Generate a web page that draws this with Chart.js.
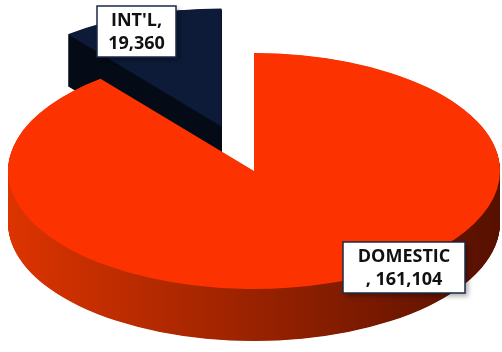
<!DOCTYPE html>
<html>
<head>
<meta charset="utf-8">
<script src="https://cdn.jsdelivr.net/npm/chart.js@4/dist/chart.umd.min.js"></script>
<style>
    html, body { margin: 0; padding: 0; background: #fff; }
    #contenedor { width: 502px; height: 352px; position: relative; }
</style>
</head>
<body>
<div id="contenedor"><canvas id="pastel-grafica"></canvas></div>
<script>
const categorias = ["INT'L", 'DOMESTIC'];
const valores = [19360, 161104];
const etiquetas = [["INT'L,", '19,360'], ['DOMESTIC', ', 161,104']];

const colores = ['#0d1b39', '#fc3300'];
const coloresLado = [['#040b17', '#040b17'], ['#dc3400', '#561000']];

// vista 3d: elipse en pantalla, grosor y separacion de cada rebanada (fraccion del radio)
const vista = { cx: 254, cy: 171, rx: 246, ry: 118, grosor: 52, separa: [0.4, 0] };
// cajas de las etiquetas
const cajas = [
    { x: 97, y: 6, w: 79, h: 51 },
    { x: 343, y: 242, w: 122, h: 51 }
];

const pastel3d = {
    id: 'pastel3d',
    beforeDatasetsDraw(chart) {
        const ctx = chart.ctx;
        const arcos = chart.getDatasetMeta(0).data;
        if (!arcos.length) return;
        const R = arcos[0].outerRadius;
        const cx0 = arcos[0].x, cy0 = arcos[0].y;
        const sx = vista.rx / R, sy = vista.ry / R;

        // mover las rebanadas separadas
        arcos.forEach((arco, i) => {
            const d = vista.separa[i] * R;
            const medio = (arco.startAngle + arco.endAngle) / 2;
            arco._orig = { x: arco.x, y: arco.y };
            arco.x += Math.cos(medio) * d;
            arco.y += Math.sin(medio) * d;
        });

        ctx.save();
        ctx.translate(vista.cx, vista.cy);
        ctx.scale(sx, sy);
        ctx.translate(-cx0, -cy0);

        // costados: capas hacia abajo
        arcos.forEach((arco, i) => {
            const g = ctx.createLinearGradient(cx0 - R, 0, cx0 + R, 0);
            g.addColorStop(0, coloresLado[i][0]);
            g.addColorStop(1, coloresLado[i][1]);
            ctx.fillStyle = g;
            for (let d = vista.grosor; d > 0; d -= 0.5) {
                const dy = d / sy;
                ctx.beginPath();
                ctx.moveTo(arco.x, arco.y + dy);
                ctx.arc(arco.x, arco.y + dy, R, arco.startAngle, arco.endAngle);
                ctx.closePath();
                ctx.fill();
            }
        });
    },
    afterDatasetsDraw(chart) {
        const ctx = chart.ctx;
        ctx.restore();
        chart.getDatasetMeta(0).data.forEach(arco => {
            if (arco._orig) { arco.x = arco._orig.x; arco.y = arco._orig.y; }
        });

        // etiquetas
        cajas.forEach((c, i) => {
            ctx.save();
            ctx.shadowColor = 'rgba(0,0,0,0.35)';
            ctx.shadowBlur = 5;
            ctx.shadowOffsetX = 3;
            ctx.shadowOffsetY = 3;
            ctx.fillStyle = '#fff';
            ctx.fillRect(c.x, c.y, c.w, c.h);
            ctx.restore();
            ctx.save();
            ctx.strokeStyle = '#1b2a44';
            ctx.lineWidth = 1.5;
            ctx.strokeRect(c.x, c.y, c.w, c.h);
            ctx.fillStyle = '#111';
            ctx.font = 'bold 18px "Open Sans"';
            ctx.textAlign = 'center';
            ctx.textBaseline = 'middle';
            const lineas = etiquetas[i];
            lineas.forEach((t, k) => {
                ctx.fillText(t, c.x + c.w / 2, c.y + 15 + k * 23);
            });
            ctx.restore();
        });
    }
};

const ctx = document.getElementById('pastel-grafica').getContext('2d');
const grafica = new Chart(ctx, {
    type: 'pie',
    data: {
        labels: categorias,
        datasets: [{
            data: valores,
            backgroundColor: colores,
            borderWidth: 0,
            hoverOffset: 0,
            clip: false
        }]
    },
    options: {
        responsive: true,
        maintainAspectRatio: false,
        animation: false,
        rotation: 360 * valores[1] / (valores[0] + valores[1]), // INT'L empieza donde termina DOMESTIC
        layout: { padding: 0 },
        plugins: {
            legend: { display: false },
            tooltip: { enabled: false }
        }
    },
    plugins: [pastel3d]
});
</script>
</body>
</html>
